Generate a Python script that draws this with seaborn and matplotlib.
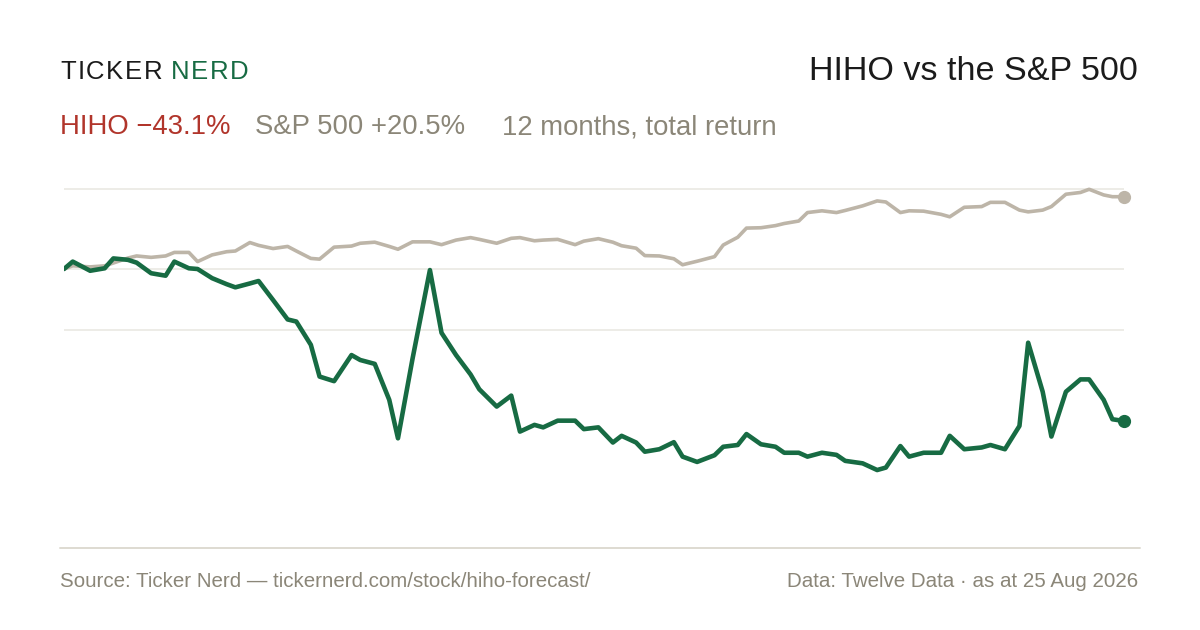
import pandas as pd
import numpy as np
import matplotlib
matplotlib.use("Agg")
import matplotlib.pyplot as plt
import seaborn as sns

# NYSE holidays inside the window, the chart samples every third trading day
HOLIDAYS = ['2025-09-01', '2025-11-27', '2025-12-25', '2026-01-01', '2026-01-19',
            '2026-02-16', '2026-04-03', '2026-05-25', '2026-06-19', '2026-07-03']
START, END = '2025-08-25', '2026-08-25'

# total return since start, in %
hiho = [0.0, 2.1, -0.5, 0.2, 3.0, 2.6, 1.8, -1.2, -1.9, 2.1,
        0.2, 0.0, -2.6, -4.3, -5.2, -4.1, -3.4, -8.8, -14.3, -14.9,
        -21.5, -30.5, -31.8, -24.4, -25.8, -26.9, -37.1, -48.0, -25.5, -0.3,
        -18.1, -24.4, -29.9, -34.1, -39.0, -35.9, -46.1, -44.2, -44.9, -43.0,
        -43.0, -45.4, -44.9, -49.2, -47.3, -49.2, -51.8, -51.1, -49.1, -53.2,
        -54.7, -52.8, -50.4, -49.9, -46.8, -49.7, -50.4, -52.1, -52.1, -53.2,
        -52.1, -52.7, -54.4, -55.1, -57.0, -56.3, -50.2, -53.2, -52.1, -52.1,
        -47.3, -51.1, -50.6, -49.9, -51.1, -44.5, -20.9, -34.8, -47.5, -34.8,
        -31.3, -31.3, -37.1, -42.6, -43.1]
spx = [0.0, 0.9, 0.6, 0.9, 1.7, 3.1, 3.7, 3.3, 3.7, 4.7,
       4.7, 2.1, 4.0, 4.9, 5.1, 7.5, 6.7, 5.8, 6.4, 5.1,
       3.0, 2.8, 6.2, 6.5, 7.3, 7.6, 6.4, 5.6, 7.7, 7.7,
       6.9, 8.2, 8.9, 8.4, 7.3, 8.7, 8.9, 8.0, 8.2, 8.4,
       6.9, 7.9, 8.6, 7.6, 6.6, 5.9, 3.8, 3.7, 2.9, 1.2,
       2.2, 3.5, 6.8, 9.0, 11.6, 11.7, 12.3, 12.9, 13.6, 16.0,
       16.5, 16.0, 16.6, 17.9, 19.3, 19.0, 16.0, 16.5, 16.4, 15.5,
       14.8, 17.5, 17.7, 18.9, 18.9, 16.7, 16.2, 16.7, 17.7, 21.2,
       21.7, 22.6, 21.0, 20.5, 20.5]

TICKER = 'HIHO'
HIHO_TOTAL = '\u221243.1%'
SPX_TOTAL = '+20.5%'

GREEN = '#176b43'
SAND = '#bdb5a8'
RED = '#b1352b'
MUTED = '#8b8678'
INK = '#1b1b1b'
GRID = '#ecebe5'

trading = pd.bdate_range(START, END, freq='C', holidays=HOLIDAYS)
dates = trading[::3].append(trading[-1:])

df = pd.DataFrame({'date': dates, 'hiho': hiho, 'spx': spx})

sns.set_theme(style='white')
plt.rcParams['font.family'] = ['Liberation Sans', 'DejaVu Sans']

W, H = 1200, 630
fig = plt.figure(figsize=(12, 6.3), dpi=100)
fig.patch.set_facecolor('white')

# plot area: x 64..1124 px, y 170..490 px
ax = fig.add_axes([64 / W, 1 - 490 / H, 1060 / W, 320 / H])
ax.set_facecolor('none')

lo, hi = min(hiho + spx), max(hiho + spx)
for g in [hi, 0, (hi + lo) / 2]:
    ax.axhline(g, color=GRID, lw=1.3, zorder=0)

sns.lineplot(data=df, x='date', y='spx', ax=ax, color=SAND, lw=2.6, zorder=2)
sns.lineplot(data=df, x='date', y='hiho', ax=ax, color=GREEN, lw=3.3, zorder=3)
ax.plot(df['date'].iloc[-1], spx[-1], 'o', color=SAND, ms=8.5, zorder=4, clip_on=False)
ax.plot(df['date'].iloc[-1], hiho[-1], 'o', color=GREEN, ms=8.5, zorder=5, clip_on=False)

ax.set_xlim(df['date'].iloc[0], df['date'].iloc[-1])
ax.set_ylim(-62.66, 28.07)
ax.set_xticks([])
ax.set_yticks([])
ax.set_xlabel('')
ax.set_ylabel('')
for s in ax.spines.values():
    s.set_visible(False)
for l in ax.lines:
    l.set_solid_capstyle('round')
    l.set_solid_joinstyle('round')


def fx(px):
    return px / W


def fy(py):
    return 1 - py / H


# letter-spaced logo
renderer = fig.canvas.get_renderer()
x = 60
for word, col in [('TICKER', INK), ('NERD', GREEN)]:
    for ch in word:
        t = fig.text(fx(x), fy(79), ch, color=col, fontsize=18.5, va='baseline', ha='left')
        x += t.get_window_extent(renderer).width + 1.6
    x += 7

fig.text(fx(1138), fy(80), f'{TICKER} vs the S&P 500', color=INK, fontsize=24.6,
         ha='right', va='baseline')

fig.text(fx(60), fy(134), f'{TICKER} {HIHO_TOTAL}', color=RED, fontsize=19.8, va='baseline')
fig.text(fx(255), fy(134), f'S&P 500 {SPX_TOTAL}', color=MUTED, fontsize=19.8, va='baseline')
fig.text(fx(502), fy(134), '12 months, total return', color=MUTED, fontsize=19.8, va='baseline')

fig.add_artist(plt.Line2D([fx(60), fx(1140)], [fy(548), fy(548)], color='#dedbd1', lw=1.4))

fig.text(fx(60), fy(587), 'Source: Ticker Nerd \u2014 tickernerd.com/stock/hiho-forecast/',
         color=MUTED, fontsize=14.8, va='baseline')
fig.text(fx(1138), fy(587), 'Data: Twelve Data \u00b7 as at 25 Aug 2026',
         color=MUTED, fontsize=14.8, va='baseline', ha='right')

fig.savefig('out.png', dpi=100, facecolor='white')
